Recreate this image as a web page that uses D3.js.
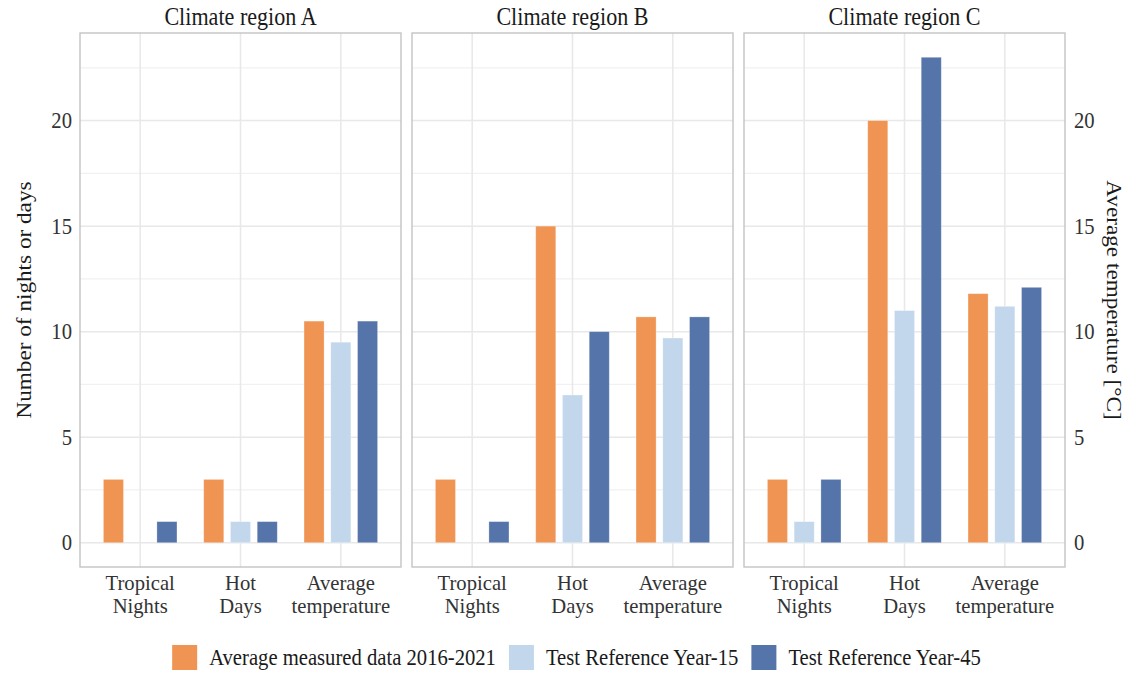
<!DOCTYPE html>
<html>
<head>
<meta charset="utf-8">
<script src="https://cdn.jsdelivr.net/npm/d3@7"></script>
<style>
  html, body { margin: 0; padding: 0; background: #fff; }
  svg { display: block; }
  svg text { font-family: "Liberation Serif", "Times New Roman", serif; }
</style>
</head>
<body>
<svg id="chart" width="1137" height="675"></svg>
<script>
// Climate regions (facets), indicator categories and scenario series
const regions = ["Climate region A", "Climate region B", "Climate region C"];
const categories = ["Tropical Nights", "Hot Days", "Average temperature"];
const categoryLines = [["Tropical", "Nights"], ["Hot", "Days"], ["Average", "temperature"]];
const seriesNames = ["Average measured data 2016-2021", "Test Reference Year-15", "Test Reference Year-45"];
const seriesColors = ["#EF9453", "#C2D7EB", "#5574A9"];

// values per region: [Tropical Nights, Hot Days, Average temperature]
const measuredValues = [[3, 3, 10.5], [3, 15, 10.7], [3, 20, 11.8]];
const try15Values    = [[0, 1, 9.5],  [0, 7, 9.7],   [1, 11, 11.2]];
const try45Values    = [[1, 1, 10.5], [1, 10, 10.7], [3, 23, 12.1]];
const seriesValues = [measuredValues, try15Values, try45Values];

const yTicks = [0, 5, 10, 15, 20];
const yMinorTicks = [2.5, 7.5, 12.5, 17.5, 22.5];

const svg = d3.select("#chart");

const panelTop = 33, panelBottom = 567;
const panelLeft0 = 80, panelW = 321, panelGap = 11;

// serif text is drawn slightly condensed
const squeeze = 0.91;
const labelSize = 22.7, stripSize = 24.3, titleSize = 23.2;
const catSize = 21.5, catSqueeze = 0.96;
const textColor = "#1a1a1a", tickColor = "#333";

function addText(parent, x, y, str, size, anchor, color, sx) {
  const g = parent.append("g").attr("transform", `translate(${x},${y}) scale(${sx || squeeze},1)`);
  return g.append("text")
    .attr("text-anchor", anchor || "start")
    .attr("font-size", size)
    .attr("fill", color || textColor)
    .text(str);
}

// shared y scale (both axes use the same scale)
const dataMax = 23;
const pad = dataMax * 0.05;
const y = d3.scaleLinear().domain([-pad, dataMax + pad]).range([panelBottom, panelTop]);

regions.forEach((region, ri) => {
  const x0 = panelLeft0 + ri * (panelW + panelGap);
  const g = svg.append("g").attr("transform", `translate(${x0},0)`);

  const xCat = d3.scaleBand().domain(categories).range([0, panelW])
    .paddingInner(0).paddingOuter(0.1);
  const step = xCat.step();

  // minor grid
  g.selectAll("line.minor").data(yMinorTicks).join("line")
    .attr("x1", 0).attr("x2", panelW)
    .attr("y1", d => y(d)).attr("y2", d => y(d))
    .attr("stroke", "#f1f1f1").attr("stroke-width", 1.2);
  // major grid
  g.selectAll("line.major").data(yTicks).join("line")
    .attr("x1", 0).attr("x2", panelW)
    .attr("y1", d => y(d)).attr("y2", d => y(d))
    .attr("stroke", "#e8e8e8").attr("stroke-width", 1.5);
  g.selectAll("line.vgrid").data(categories).join("line")
    .attr("x1", d => xCat(d) + step / 2).attr("x2", d => xCat(d) + step / 2)
    .attr("y1", panelTop).attr("y2", panelBottom)
    .attr("stroke", "#e8e8e8").attr("stroke-width", 1.5);

  // bars: dodged within each category
  categories.forEach((cat, ci) => {
    const cx = xCat(cat) + step / 2;
    const xSeries = d3.scaleBand().domain(d3.range(seriesNames.length))
      .range([cx - 0.4 * step, cx + 0.4 * step]);
    const barW = 0.2 * step;
    const rows = seriesNames.map((s, si) => ({ si, v: seriesValues[si][ri][ci] }));
    g.selectAll(null).data(rows).join("rect")
      .attr("x", d => xSeries(d.si) + xSeries.bandwidth() / 2 - barW / 2)
      .attr("width", barW)
      .attr("y", d => y(Math.max(0, d.v)))
      .attr("height", d => Math.abs(y(0) - y(d.v)))
      .attr("fill", d => seriesColors[d.si])
      .attr("stroke", d => d.v > 0 ? "rgba(255,255,255,0.35)" : "none")
      .attr("stroke-width", 0.8);
  });

  // panel border
  g.append("rect")
    .attr("x", 0).attr("y", panelTop)
    .attr("width", panelW).attr("height", panelBottom - panelTop)
    .attr("fill", "none").attr("stroke", "#c4c4c4").attr("stroke-width", 1.4);

  // strip title
  addText(g, panelW / 2, 25, region, stripSize, "middle");

  // category labels (two lines in one text element)
  categories.forEach((cat, ci) => {
    const t = addText(g, xCat(cat) + step / 2, 589.5, null, catSize, "middle", tickColor, catSqueeze);
    categoryLines[ci].forEach((line, li) => {
      t.append("tspan").attr("x", 0).attr("dy", li === 0 ? 0 : 24).text(line);
    });
  });
});

// left axis
const leftAxis = d3.axisLeft(y).tickValues(yTicks).tickSize(0).tickPadding(8 / squeeze);
const gl = svg.append("g").attr("transform", `translate(${panelLeft0},0)`).call(leftAxis);
gl.select(".domain").remove();
gl.attr("font-family", null);
gl.selectAll("text").attr("font-size", labelSize).attr("fill", tickColor)
  .attr("transform", `scale(${squeeze},1)`);

// right (secondary) axis
const rightX = panelLeft0 + 3 * panelW + 2 * panelGap;
const rightAxis = d3.axisRight(y).tickValues(yTicks).tickSize(0).tickPadding(9 / squeeze);
const gr = svg.append("g").attr("transform", `translate(${rightX},0)`).call(rightAxis);
gr.select(".domain").remove();
gr.attr("font-family", null);
gr.selectAll("text").attr("font-size", labelSize).attr("fill", tickColor)
  .attr("transform", `scale(${squeeze},1)`);

// axis titles
const midY = (panelTop + panelBottom) / 2;
svg.append("text")
  .attr("transform", `translate(31,${midY}) scale(${squeeze},1) rotate(-90)`)
  .attr("text-anchor", "middle")
  .attr("font-size", titleSize).attr("fill", textColor)
  .text("Number of nights or days");
svg.append("text")
  .attr("transform", `translate(1107,${midY}) scale(${squeeze},1) rotate(90)`)
  .attr("text-anchor", "middle")
  .attr("font-size", titleSize).attr("fill", textColor)
  .text("Average temperature [°C]");

// legend
const keySize = 25, keyGap = 12, itemGap = 13;
const legend = svg.append("g");
let cursor = 0;
seriesNames.forEach((name, si) => {
  const item = legend.append("g").attr("transform", `translate(${cursor},0)`);
  item.append("rect").attr("x", 0).attr("y", 0)
    .attr("width", keySize).attr("height", keySize)
    .attr("fill", seriesColors[si]);
  const t = addText(item, keySize + keyGap, 20, name, labelSize, "start");
  cursor += keySize + keyGap + t.node().getComputedTextLength() * squeeze + itemGap;
});
const legendW = cursor - itemGap;
legend.attr("transform", `translate(${170 + (983 - 170 - legendW) / 2},645)`);
</script>
</body>
</html>
